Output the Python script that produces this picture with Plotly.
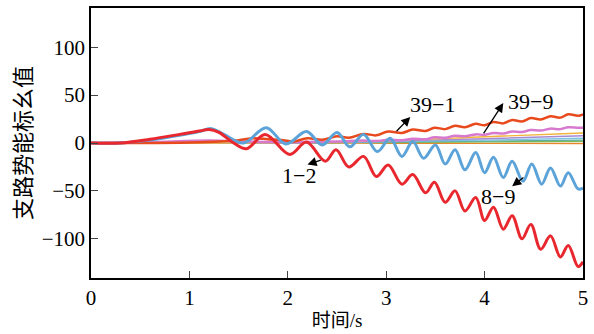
import plotly.graph_objects as go

# ---- data ----
red_x = [0, 0.3, 0.6, 0.9, 1.1, 1.2, 1.3, 1.45, 1.58, 1.77, 2.02, 2.19, 2.38, 2.49, 2.62, 2.77,
         2.9, 3.02, 3.16, 3.27, 3.4, 3.49, 3.6, 3.7, 3.8, 3.91, 4.0, 4.09, 4.19, 4.28, 4.38,
         4.47, 4.57, 4.67, 4.77, 4.85, 4.95, 5.0]
red_y = [0, 0, 4, 9, 12.5, 14, 11, 0, -6, 9, -12, 1, -19, -7, -25, -14, -35, -23, -43, -33,
         -52, -41, -62, -50, -71, -57, -81, -67, -90, -76, -100, -85, -111, -97, -119, -107,
         -129, -124]

blue_x = [0, 0.3, 0.6, 0.9, 1.1, 1.22, 1.35, 1.55, 1.78, 1.98, 2.19, 2.35, 2.5, 2.63, 2.77,
          2.91, 3.04, 3.16, 3.27, 3.38, 3.5, 3.6, 3.7, 3.8, 3.91, 4.0, 4.09, 4.19, 4.28, 4.39,
          4.48, 4.58, 4.67, 4.77, 4.85, 4.95, 5.0]
blue_y = [0, 0, 3, 8, 12, 15, 9, 0, 16, -1, 12, -2, 11, -4, 9, -9, 5, -14, 1.5, -16, -2, -22,
          -7, -28, -10, -31, -15, -36, -19, -40, -22, -43, -26, -45, -31, -48, -47]

l391_x = [0, 0.5, 1.0, 1.3, 1.5, 1.65, 1.8, 1.95, 2.05, 2.2, 2.35, 2.5, 2.62, 2.77, 2.9, 3.02,
          3.16, 3.27, 3.4, 3.49, 3.6, 3.7, 3.8, 3.91, 4.0, 4.09, 4.19, 4.28, 4.38, 4.47, 4.57,
          4.67, 4.77, 4.85, 4.95, 5.0]
l391_y = [0, 0, 0.5, 1.5, 3, 5, 4, 3, 1.5, 5, 3.5, 7, 5.5, 9.5, 8, 12, 10.5, 14, 12.5, 16,
          14.5, 18, 16.5, 20, 18.5, 22, 20.5, 24, 22.5, 26, 24.5, 28, 26.5, 30, 28.5, 30]

l399_x = [0, 0.6, 1.2, 1.6, 2.0, 2.5, 2.77, 2.9, 3.02, 3.16, 3.27, 3.4, 3.49, 3.6, 3.7, 3.8,
          3.91, 4.0, 4.09, 4.19, 4.28, 4.38, 4.47, 4.57, 4.67, 4.77, 4.85, 4.95, 5.0]
l399_y = [0, 1, 2.5, 1.5, 1, 1.5, 2.5, 2, 3.5, 3, 4.5, 4, 6, 5.5, 7.5, 7, 9, 8.5, 10.5, 10,
          12, 11.5, 13.5, 13, 15, 14.5, 16.5, 16, 16]

thin_x = [0, 2.0, 3.0, 4.0, 5.0]
yellow_y = [0, 0.5, 2.5, 6.5, 10.5]
lavender_y = [0, 0.3, 2, 4.5, 7.5]
lightblue_y = [0, 0.3, 1.5, 3, 5]
teal_y = [0, 0.2, 1, 2, 3]
green_y = [0, 0.2, 0.6, 1.2, 1.8]
orange_y = [0, 0, -0.2, -0.4, -0.5]

x_ticks = [0, 1, 2, 3, 4, 5]
y_ticks = [-100, -50, 0, 50, 100]

labels = ["39−1", "39−9", "1−2", "8−9"]
label_x = [3.47, 4.47, 2.11, 4.14]
label_y = [40.7, 43.7, -34, -55.6]
head_x = [3.245, 4.19, 2.2, 4.28]
head_y = [27.2, 41.7, -22.5, -45.2]
tail_x = [3.09, 3.98, 2.35, 4.41]
tail_y = [10.7, 8.6, -17.3, -34.9]

# ---- figure ----
fig = go.Figure()
thin = [(orange_y, "#E8872A"), (green_y, "#7DBB5A"), (teal_y, "#5FAF9C"),
        (lightblue_y, "#7FC3E6"), (lavender_y, "#A68BD0"), (yellow_y, "#F2B33A")]
for ys, c in thin:
    fig.add_trace(go.Scatter(x=thin_x, y=ys, mode="lines",
                             line=dict(color=c, width=1.4, shape="spline")))

fig.add_trace(go.Scatter(x=l399_x, y=l399_y, mode="lines",
                         line=dict(color="#D77ACF", width=2.5, shape="spline", smoothing=1)))
fig.add_trace(go.Scatter(x=l391_x, y=l391_y, mode="lines",
                         line=dict(color="#E84A1E", width=2.5, shape="spline", smoothing=1)))
fig.add_trace(go.Scatter(x=blue_x, y=blue_y, mode="lines",
                         line=dict(color="#5BA3D8", width=3, shape="spline", smoothing=1)))
fig.add_trace(go.Scatter(x=red_x, y=red_y, mode="lines",
                         line=dict(color="#E8282E", width=3, shape="spline", smoothing=1)))

font_main = "Liberation Serif, Times New Roman, Noto Sans CJK SC, serif"

for t, lx, ly in zip(labels, label_x, label_y):
    fig.add_annotation(x=lx, y=ly, text=t, showarrow=False,
                       font=dict(family=font_main, size=22, color="black"))
for hx, hy, tx, ty in zip(head_x, head_y, tail_x, tail_y):
    fig.add_annotation(x=hx, y=hy, ax=tx, ay=ty, xref="x", yref="y", axref="x", ayref="y",
                       text="", showarrow=True, arrowhead=2, arrowsize=1.4,
                       arrowwidth=1.3, arrowcolor="black")

fig.update_layout(
    width=594, height=334,
    margin=dict(l=91, r=11, t=6, b=55),
    paper_bgcolor="white", plot_bgcolor="white",
    showlegend=False,
    font=dict(family=font_main, size=21, color="black"),
)
fig.update_xaxes(range=[0, 5], tickvals=x_ticks, ticks="inside", ticklen=7, tickwidth=1.3,
                 showline=True, linecolor="black", linewidth=1.5, mirror=True,
                 showgrid=False, zeroline=False,
                 tickfont=dict(family=font_main, size=21),
                 title=dict(text="时间/s", font=dict(family=font_main, size=19), standoff=5))
fig.update_yaxes(range=[-141, 141], tickvals=y_ticks, ticks="inside", ticklen=7, tickwidth=1.3,
                 showline=True, linecolor="black", linewidth=1.5, mirror=True,
                 showgrid=False, zeroline=False,
                 tickfont=dict(family=font_main, size=21),
                 title=dict(text="支路势能标幺值", font=dict(family=font_main, size=22), standoff=4))

fig.write_html("out.html")
